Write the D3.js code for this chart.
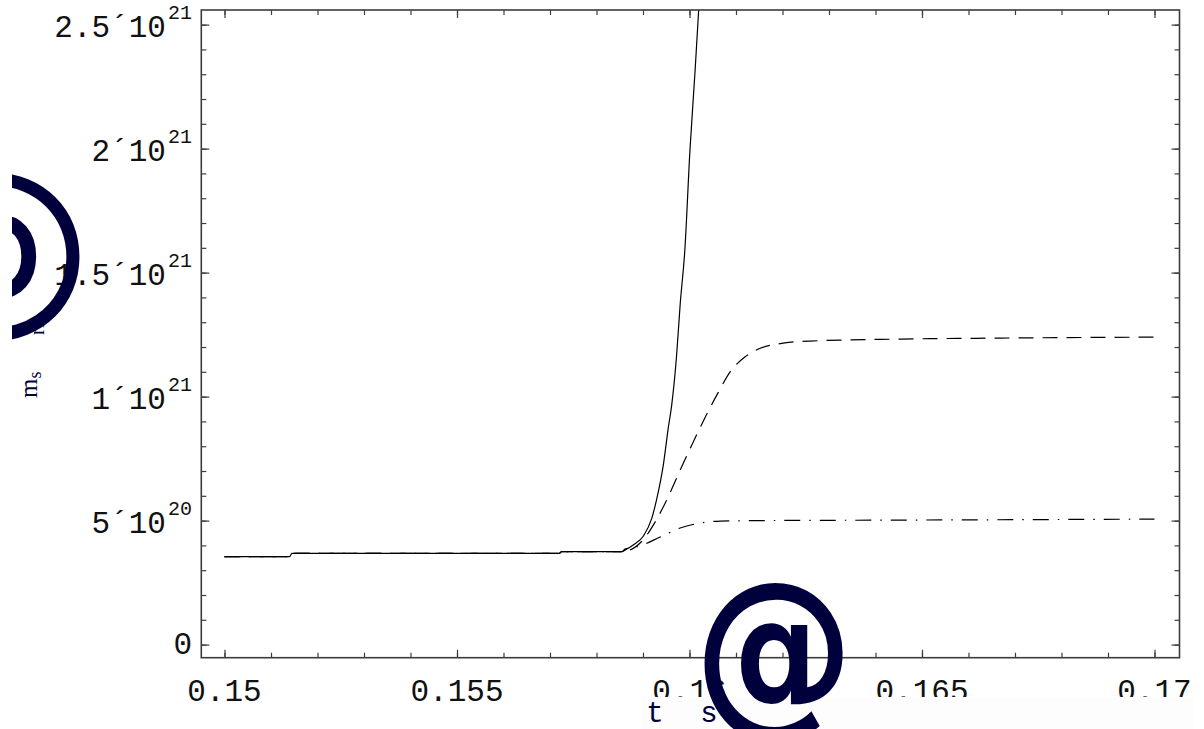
<!DOCTYPE html>
<html>
<head>
<meta charset="utf-8">
<script src="https://cdn.jsdelivr.net/npm/d3@7"></script>
<style>
	body { margin: 0; background: #fff; }
	svg { display: block; }
</style>
</head>
<body>
<div id="chart-area"></div>
<script>

// ---- data ----
// flat part shared by all three runs (t in s, m_s in arbitrary units)
let tBase = [0.15, 0.1514, 0.15145, 0.1572, 0.15725, 0.15855];
let mBase = [3.545e20, 3.545e20, 3.68e20, 3.68e20, 3.75e20, 3.75e20];

// solid curve (runs off the top)
let tSolid = [0.15861, 0.15879, 0.15901, 0.15919, 0.15929, 0.15944, 0.15954, 0.15962, 0.15972, 0.15980, 0.15990, 0.16001, 0.16012, 0.16021, 0.16027];
let mSolid = [3.81e20, 4.02e20, 4.38e20, 5.10e20, 5.83e20, 7.28e20, 8.69e20, 9.70e20, 1.160e21, 1.373e21, 1.591e21, 1.994e21, 2.313e21, 2.599e21, 2.80e21];

// dashed curve
let tDashed = [0.15870, 0.15900, 0.15926, 0.15954, 0.15980, 0.16005, 0.16033, 0.16061, 0.16087, 0.16119, 0.16152, 0.16195, 0.16259, 0.16453, 0.16668, 0.1700];
let mDashed = [3.80e20, 4.22e20, 4.94e20, 5.95e20, 7.04e20, 8.05e20, 9.14e20, 1.014e21, 1.099e21, 1.160e21, 1.195e21, 1.214e21, 1.224e21, 1.232e21, 1.236e21, 1.240e21];

// dash-dot curve
let tDashDot = [0.15861, 0.15894, 0.15937, 0.15980, 0.16023, 0.16066, 0.16152, 0.16453, 0.1700];
let mDashDot = [3.85e20, 3.98e20, 4.34e20, 4.70e20, 4.90e20, 4.98e20, 5.00e20, 5.02e20, 5.06e20];

// tick labels
let xTickVals = [0.15, 0.155, 0.16, 0.165, 0.17];
let xTickText = ["0.15", "0.155", "0.16", "0.165", "0.17"];
let yTickVals = [0, 5e20, 1e21, 1.5e21, 2e21, 2.5e21];
let yTickMant = ["0", "5\u00b410", "1\u00b410", "1.5\u00b410", "2\u00b410", "2.5\u00b410"];
let yTickExp = ["", "20", "21", "21", "21", "21"];

// ---- layout ----
let W = 1204, H = 729;
let plot = {left: 201.3, right: 1179.5, top: 10, bottom: 657.7};
let navy = "#00003c";
let frameColor = "#3c3c3c";

let svg = d3.select("#chart-area").append("svg")
	.attr("width", W)
	.attr("height", H);

let xscale = d3.scaleLinear().domain([0.149501, 0.170538]).range([plot.left, plot.right]);
let yscale = d3.scaleLinear().domain([-5.28e19, 2.559e21]).range([plot.bottom, plot.top]);

svg.append("clipPath").attr("id", "plotclip")
	.append("rect")
	.attr("x", plot.left).attr("y", plot.top)
	.attr("width", plot.right - plot.left).attr("height", plot.bottom - plot.top);

// build the three series from the shared flat part + their own tail
function series(ts, ms) {
	let pts = tBase.map((t, i) => ({t: t, m: mBase[i]}));
	return pts.concat(ts.map((t, i) => ({t: t, m: ms[i]})));
}

let runs = [
	{pts: series(tSolid, mSolid), dash: null},
	{pts: series(tDashed, mDashed), dash: "15,9"},
	{pts: series(tDashDot, mDashDot), dash: "16,9,1.5,9"}
];

let line = d3.line()
	.x(d => xscale(d.t))
	.y(d => yscale(d.m))
	.curve(d3.curveMonotoneX);

svg.append("g").attr("clip-path", "url(#plotclip)")
	.selectAll("path")
	.data(runs)
	.enter().append("path")
	.attr("d", d => line(d.pts))
	.attr("fill", "none")
	.attr("stroke", "#000")
	.attr("stroke-width", 1.2)
	.attr("stroke-dasharray", d => d.dash);

// ---- frame ticks (inward, on all four sides) ----
let xMinor = xscale.ticks(20), xMajor = xscale.ticks(5);
let yMinor = yscale.ticks(26), yMajor = yscale.ticks(5);

function tickGroup(axis, tx, ty) {
	let g = svg.append("g")
		.attr("transform", "translate(" + tx + "," + ty + ")")
		.call(axis);
	g.select(".domain").remove();
	g.selectAll("line").attr("stroke", frameColor).attr("stroke-width", 1.2);
	return g;
}

[[xMinor, 5], [xMajor, 8]].forEach(([vals, len]) => {
	tickGroup(d3.axisBottom(xscale).tickValues(vals).tickSize(-len).tickFormat(""), 0, plot.bottom);
	tickGroup(d3.axisTop(xscale).tickValues(vals).tickSize(-len).tickFormat(""), 0, plot.top);
});
[[yMinor, 5], [yMajor, 8]].forEach(([vals, len]) => {
	tickGroup(d3.axisLeft(yscale).tickValues(vals).tickSize(-len).tickFormat(""), plot.left, 0);
	tickGroup(d3.axisRight(yscale).tickValues(vals).tickSize(-len).tickFormat(""), plot.right, 0);
});

svg.append("rect")
	.attr("x", plot.left).attr("y", plot.top)
	.attr("width", plot.right - plot.left).attr("height", plot.bottom - plot.top)
	.attr("fill", "none")
	.attr("stroke", frameColor)
	.attr("stroke-width", 1.6);

// ---- tick labels ----
svg.selectAll(".xlab")
	.data(xTickVals)
	.enter().append("text")
	.attr("class", "xlab")
	.attr("x", d => xscale(d))
	.attr("y", 701)
	.attr("text-anchor", "middle")
	.style("font-family", "'Liberation Mono', monospace")
	.style("font-size", "31px")
	.attr("fill", "#111")
	.text((d, i) => xTickText[i]);

let ylabs = svg.selectAll(".ylab")
	.data(yTickVals)
	.enter().append("text")
	.attr("class", "ylab")
	.attr("x", 192)
	.attr("y", (d, i) => yscale(d) + (yTickExp[i] ? 12 : 9))
	.attr("text-anchor", "end")
	.style("font-family", "'Liberation Mono', monospace")
	.style("font-size", "31px")
	.attr("fill", "#111");
ylabs.append("tspan").text((d, i) => yTickMant[i]);
ylabs.append("tspan")
	.attr("dy", -18)
	.attr("dx", 2)
	.style("font-size", "20px")
	.text((d, i) => yTickExp[i]);

// ---- axis labels (garbled glyphs as in the original) ----
svg.append("rect")
	.attr("x", 642).attr("y", 697)
	.attr("width", 551).attr("height", 32)
	.attr("fill", "#fdfdfd");

svg.append("text")
	.attr("x", 655).attr("y", 722)
	.attr("text-anchor", "middle")
	.style("font-family", "'Liberation Mono', monospace")
	.style("font-size", "29px")
	.attr("fill", navy)
	.text("t");
svg.append("text")
	.attr("x", 709).attr("y", 722)
	.attr("text-anchor", "middle")
	.style("font-family", "'Liberation Mono', monospace")
	.style("font-size", "29px")
	.attr("fill", navy)
	.text("s");

svg.append("text")
	.attr("transform", "translate(774,712) scale(1,1.15)")
	.attr("text-anchor", "middle")
	.style("font-family", "'DejaVu Sans', sans-serif")
	.style("font-weight", "bold")
	.style("font-size", "160px")
	.attr("fill", navy)
	.text("@");

// left label
svg.append("clipPath").attr("id", "leftclip")
	.append("rect").attr("x", 12).attr("y", 0).attr("width", 100).attr("height", H);

let ylab = svg.append("text")
	.attr("transform", "translate(37,398) rotate(-90)")
	.style("font-family", "'Liberation Serif', serif")
	.style("font-size", "25px")
	.attr("fill", navy);
ylab.append("tspan").text("m");
ylab.append("tspan").attr("dy", 4).style("font-size", "18px").text("s");

svg.append("g")
	.attr("clip-path", "url(#leftclip)")
	.append("text")
	.attr("transform", "translate(-3,206) rotate(180)")
	.attr("text-anchor", "middle")
	.style("font-family", "'DejaVu Sans', sans-serif")
	.style("font-size", "190px")
	.attr("fill", navy)
	.text("@");

svg.append("text")
	.attr("transform", "translate(44,335) rotate(-90)")
	.style("font-family", "'Liberation Serif', serif")
	.style("font-size", "20px")
	.attr("fill", navy)
	.text("rI");

</script>
</body>
</html>
